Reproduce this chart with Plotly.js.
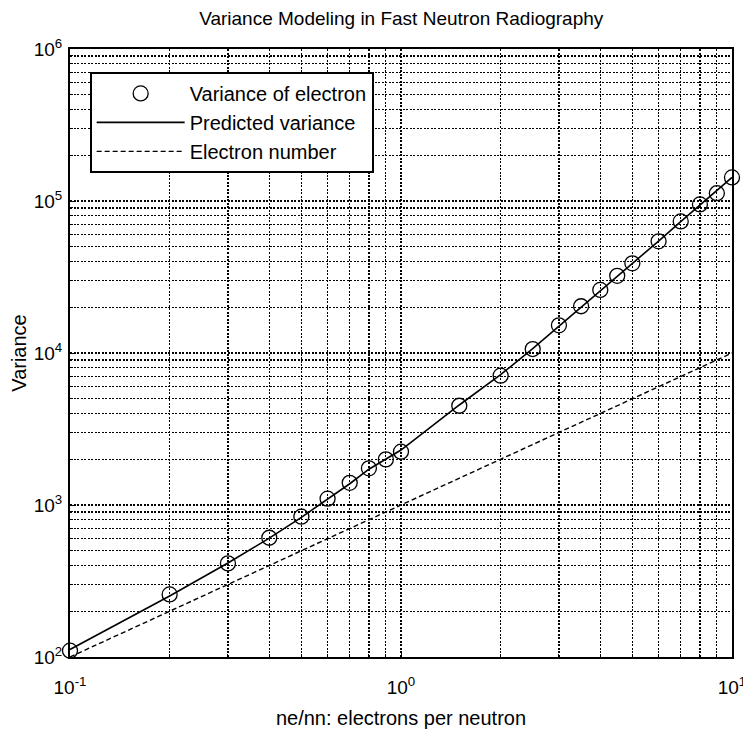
<!DOCTYPE html>
<html>
<head>
<meta charset="utf-8">
<script src="https://cdn.plot.ly/plotly-3.0.1.min.js"></script>
<style>
  html, body { margin: 0; padding: 0; background: #fff; }
  #chart { width: 743px; height: 729px; }
</style>
</head>
<body>
<div id="chart"></div>
<script>
// Electrons per neutron (ne/nn) at which the electron variance was measured
const ratio = [0.1, 0.2, 0.3, 0.4, 0.5, 0.6, 0.7, 0.8, 0.9, 1.0,
               1.5, 2.0, 2.5, 3.0, 3.5, 4.0, 4.5, 5.0, 6.0, 7.0, 8.0, 9.0, 10.0];

// Measured variance of the electron count
const measuredVariance = [110, 258, 413, 609, 838, 1100, 1400, 1742, 1996, 2244,
                          4497, 7097, 10620, 15200, 20300, 26000, 32200, 38900,
                          54300, 73400, 95000, 112500, 143000];

// Model prediction of the variance
const predictedVariance = [112, 252, 415, 605, 830, 1090, 1380, 1720, 2000, 2300,
                           4550, 7200, 10700, 15000, 20200, 25800, 32000, 38600,
                           54500, 73200, 94500, 118000, 143000];

// Mean electron number (Poisson reference)
const electronRatio = [0.1, 1.0, 10.0];
const electronNumber = [100, 1000, 10000];

// Decade tick labels
const xTickVals = [0.1, 1, 10];
const xTickText = ['10<sup>-1</sup>', '10<sup>0</sup>', '10<sup>1</sup>'];
const yTickVals = [1e2, 1e3, 1e4, 1e5, 1e6];
const yTickText = ['10<sup>2</sup>', '10<sup>3</sup>', '10<sup>4</sup>', '10<sup>5</sup>', '10<sup>6</sup>'];

const FONT = 'Liberation Sans, Arial, Helvetica, sans-serif';

const traces = [
  {
    x: ratio, y: measuredVariance,
    type: 'scatter', mode: 'markers',
    name: 'Variance of electron',
    marker: { symbol: 'circle-open', size: 15, color: '#000', line: { width: 1.3, color: '#000' } },
    cliponaxis: false
  },
  {
    x: ratio, y: predictedVariance,
    type: 'scatter', mode: 'lines',
    name: 'Predicted variance',
    line: { color: '#000', width: 1.6 }
  },
  {
    x: electronRatio, y: electronNumber,
    type: 'scatter', mode: 'lines',
    name: 'Electron number',
    line: { color: '#000', width: 1.4, dash: '5px,3px' }
  }
];

// Dense dotted black grid on both decades and sub-decades
const gridStyle = { gridcolor: '#000', gridwidth: 1.2, griddash: '2px,1.5px' };

const layout = {
  width: 743, height: 729,
  margin: { l: 70, r: 11, t: 49, b: 72 },
  paper_bgcolor: '#fff', plot_bgcolor: '#fff',
  font: { family: FONT, size: 19, color: '#000' },
  title: {
    text: 'Variance Modeling in Fast Neutron Radiography',
    font: { family: FONT, size: 19, color: '#000' },
    x: 0.54, xanchor: 'center', y: 0.975, yanchor: 'middle'
  },
  xaxis: {
    type: 'log', range: [-1, 1],
    tickmode: 'array', tickvals: xTickVals, ticktext: xTickText,
    tickfont: { family: FONT, size: 19 },
    ticklabelstandoff: 12, ticklabeloverflow: 'allow',
    showline: true, linecolor: '#000', linewidth: 2, mirror: true,
    ticks: 'inside', ticklen: 6, tickcolor: '#000',
    showgrid: true, ...gridStyle,
    minor: { dtick: 'D1', showgrid: true, ...gridStyle, ticks: 'inside', ticklen: 3, tickcolor: '#000' },
    zeroline: false,
    title: { text: 'ne/nn: electrons per neutron', font: { family: FONT, size: 20 }, standoff: 14 }
  },
  yaxis: {
    type: 'log', range: [2, 6],
    tickmode: 'array', tickvals: yTickVals, ticktext: yTickText,
    tickfont: { family: FONT, size: 19 },
    ticklabelstandoff: 2, ticklabeloverflow: 'allow',
    showline: true, linecolor: '#000', linewidth: 2, mirror: true,
    ticks: 'inside', ticklen: 6, tickcolor: '#000',
    showgrid: true, ...gridStyle,
    minor: { dtick: 'D1', showgrid: true, ...gridStyle, ticks: 'inside', ticklen: 3, tickcolor: '#000' },
    zeroline: false,
    title: { text: 'Variance', font: { family: FONT, size: 20 }, standoff: 2 }
  },
  showlegend: true,
  legend: {
    x: 0.03, y: 0.962, xanchor: 'left', yanchor: 'top',
    bgcolor: '#fff', bordercolor: '#000', borderwidth: 1.8,
    font: { family: FONT, size: 20, color: '#000' },
    itemwidth: 88, tracegroupgap: 0
  }
};

Plotly.newPlot('chart', traces, layout, { displayModeBar: false, staticPlot: true });
</script>
</body>
</html>
